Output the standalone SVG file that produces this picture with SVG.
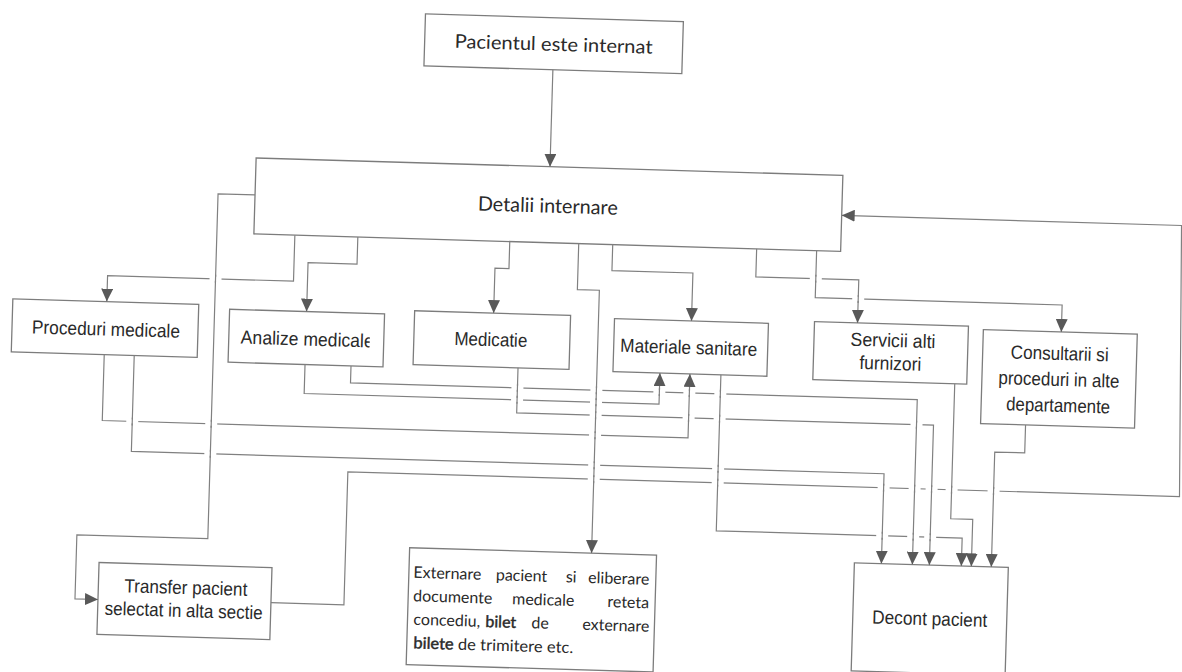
<svg xmlns="http://www.w3.org/2000/svg" width="1182" height="672" viewBox="0 0 1182 672">
<style>
.box{fill:#fff;stroke:#7c7c7c;stroke-width:1.3}
.ln{fill:none;stroke:#808080;stroke-width:1.2}
.arr{marker-end:url(#ah)}
.gap{fill:none;stroke:#fff;stroke-width:4}
.t{font-family:"Liberation Sans",Arial,sans-serif;font-size:19px;fill:#2a2a2a;text-anchor:middle}
.c{font-family:Lato,"Open Sans","Liberation Sans",sans-serif;fill:#2a2a2a}
.cm{text-anchor:middle}
.ex{font-size:16px}
.b{stroke:#2a2a2a;stroke-width:0.45}
</style>
<defs>
<marker id="ah" viewBox="0 0 13 12" refX="13" refY="6" markerWidth="13" markerHeight="12" markerUnits="userSpaceOnUse" orient="auto"><path d="M0,0 L13,6 L0,12 z" fill="#595959"/></marker>
<clipPath id="clipAn" clipPathUnits="userSpaceOnUse"><rect x="229" y="320" width="141" height="53"/></clipPath>
</defs>
<rect width="1182" height="672" fill="#fff"/>
<g transform="rotate(1.7 591 336)">
  <g id="n-pacientul">
    <rect class="box" x="416" y="19" width="258" height="52"/>
    <text class="c cm" x="545" y="52" font-size="19" textLength="198" lengthAdjust="spacingAndGlyphs">Pacientul este internat</text>
  </g>
  <g id="n-detalii">
    <rect class="box" x="251" y="168" width="587" height="76"/>
    <text class="c cm" x="544" y="214" font-size="20" textLength="140" lengthAdjust="spacingAndGlyphs">Detalii internare</text>
  </g>
  <g id="n-proceduri">
    <rect class="box" x="12" y="316" width="186" height="53"/>
    <text class="t" x="106" y="350" textLength="148" lengthAdjust="spacingAndGlyphs">Proceduri medicale</text>
  </g>
  <g id="n-analize">
    <rect class="box" x="229" y="320" width="155" height="53"/>
    <text class="t" x="241" y="354" style="text-anchor:start" textLength="133" lengthAdjust="spacingAndGlyphs" clip-path="url(#clipAn)">Analize medicale</text>
  </g>
  <g id="n-medicatie">
    <rect class="box" x="414" y="316" width="156" height="54"/>
    <text class="t" x="491" y="349" textLength="73" lengthAdjust="spacingAndGlyphs">Medicatie</text>
  </g>
  <g id="n-materiale">
    <rect class="box" x="614" y="318" width="154" height="53"/>
    <text class="t" x="689" y="351" textLength="137" lengthAdjust="spacingAndGlyphs">Materiale sanitare</text>
  </g>
  <g id="n-servicii">
    <rect class="box" x="814" y="315" width="154" height="58"/>
    <text class="t" x="893" y="338" textLength="85" lengthAdjust="spacingAndGlyphs">Servicii alti</text>
    <text class="t" x="891" y="361" textLength="62" lengthAdjust="spacingAndGlyphs">furnizori</text>
  </g>
  <g id="n-consultarii">
    <rect class="box" x="983" y="318" width="154" height="94"/>
    <text class="t" x="1060" y="346" textLength="98" lengthAdjust="spacingAndGlyphs">Consultarii si</text>
    <text class="t" x="1060" y="372" textLength="121" lengthAdjust="spacingAndGlyphs">proceduri in alte</text>
    <text class="t" x="1060" y="398" textLength="104" lengthAdjust="spacingAndGlyphs">departamente</text>
  </g>
  <g id="n-transfer">
    <rect class="box" x="106" y="577" width="173" height="72"/>
    <text class="t" x="193.5" y="606" textLength="123" lengthAdjust="spacingAndGlyphs">Transfer pacient</text>
    <text class="t" x="192" y="629" textLength="158" lengthAdjust="spacingAndGlyphs">selectat in alta sectie</text>
  </g>
  <g id="n-externare">
    <rect class="box" x="416" y="553" width="247" height="117"/>
    <text class="c ex" y="583"><tspan x="420.5">Externare</tspan><tspan x="503">pacient</tspan><tspan x="573">si</tspan></text>
    <text class="c ex" x="656.5" y="583" text-anchor="end">eliberare</text>
    <text class="c ex" y="606.5"><tspan x="421">documente</tspan><tspan x="520">medicale</tspan></text>
    <text class="c ex" x="657" y="606.5" text-anchor="end">reteta</text>
    <text class="c ex" y="630"><tspan x="422">concediu,</tspan><tspan x="494" class="b">bilet</tspan><tspan x="540">de</tspan></text>
    <text class="c ex" x="658" y="630" text-anchor="end">externare</text>
    <text class="c ex" x="422.5" y="653.5" textLength="160" lengthAdjust="spacingAndGlyphs"><tspan class="b">bilete</tspan> de trimitere etc.</text>
  </g>
  <g id="n-decont">
    <rect class="box" x="861" y="555" width="154" height="108"/>
    <text class="t" x="938" y="615" textLength="115" lengthAdjust="spacingAndGlyphs">Decont pacient</text>
  </g>
  <g id="connectors">
    <path class="ln arr" d="M545 71 V168"/>
    <path class="ln arr" d="M251 205 H214 V550 H83 V614 H106"/>
    <path class="ln arr" d="M292 244 V290 H106 V316"/>
    <path class="ln arr" d="M355 244 V271 H306 V320"/>
    <path class="ln arr" d="M507 244 V271 H493 V316"/>
    <path class="ln arr" d="M576 244 V290 H598 V553"/>
    <path class="ln arr" d="M610 244 V270 H691 V318"/>
    <path class="ln arr" d="M754 244 V272 H857 V315"/>
    <path class="ln arr" d="M814 244 V291 H1061 V318"/>
    <path class="ln arr" d="M279 612 H352 V479 H1184 L1178 208 H838"/>
    <path class="ln arr" d="M105 369 V435 H691 V371"/>
    <path class="ln arr" d="M135 369 V465 H888 V555"/>
    <path class="ln arr" d="M306 373 V402 H661 V371"/>
    <path class="ln arr" d="M352 373 V390 H919 V555"/>
    <path class="ln arr" d="M519 370 V415 H936 V555"/>
    <path class="ln arr" d="M722 371 V527 H968 V555"/>
    <path class="ln arr" d="M956 373 V508 H978 V555"/>
    <path class="ln arr" d="M1028 412 V440 H998 V555"/>
    <g id="jumps">
      <path class="gap" d="M208 290H220 M208 435H220 M208 465H220 M129 435H141 M513 390H525 M513 402H525 M592 390H604 M592 402H604 M592 415H604 M592 435H604 M592 465H604 M592 479H604 M655 390H667 M685 390H697 M685 415H697 M716 390H728 M716 415H728 M716 465H728 M716 479H728 M882 479H894 M882 527H894 M913 415H925 M913 479H925 M913 527H925 M930 479H942 M930 527H942 M950 479H962 M992 479H1004 M808 272H820 M851 291H863"/>
      <path class="ln" d="M214 286V294 M214 431V439 M214 461V469 M135 431V439 M519 386V394 M519 398V406 M598 386V394 M598 398V406 M598 411V419 M598 431V439 M598 461V469 M598 475V483 M661 386V394 M691 386V394 M691 411V419 M722 386V394 M722 411V419 M722 461V469 M722 475V483 M888 475V483 M888 523V531 M919 411V419 M919 475V483 M919 523V531 M936 475V483 M936 523V531 M956 475V483 M998 475V483 M814 268V276 M857 287V295"/>
    </g>
  </g>
</g>
</svg>
